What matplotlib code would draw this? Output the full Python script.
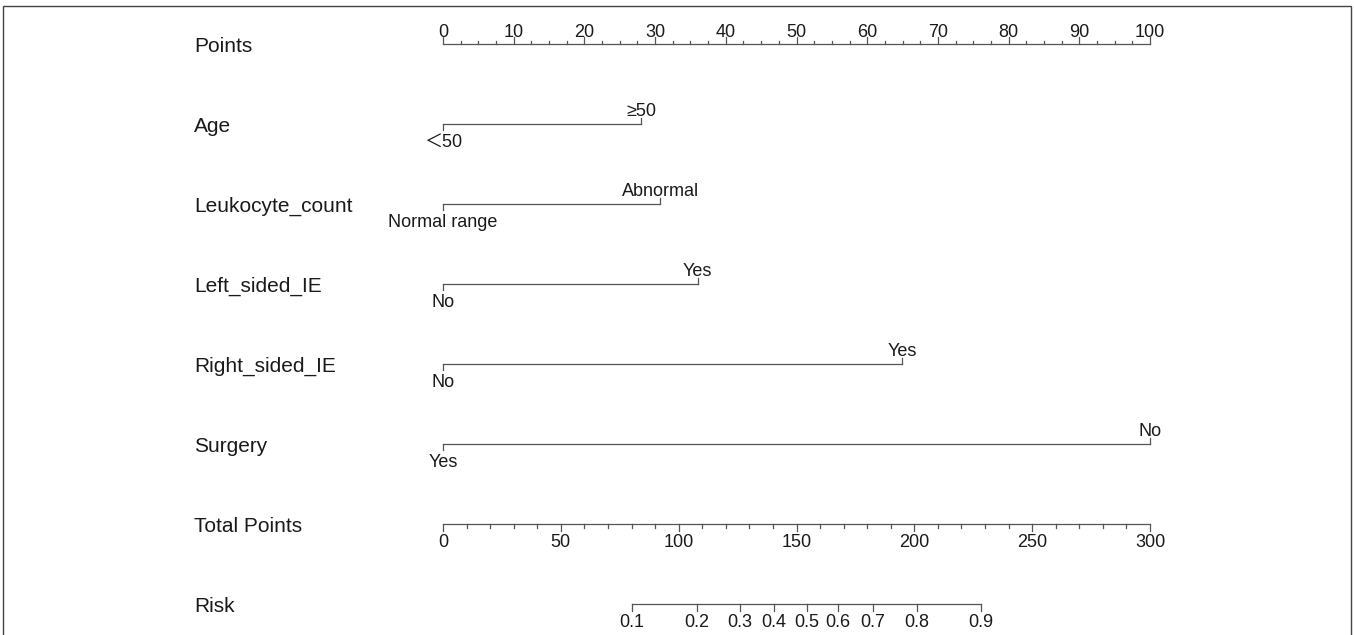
import matplotlib
matplotlib.use("Agg")
import matplotlib.pyplot as plt
from matplotlib.patches import Rectangle

plt.rcParams['font.family'] = ['Liberation Sans', 'Noto Sans CJK SC', 'DejaVu Sans']

# ---- data ----
points_ticks = [0, 10, 20, 30, 40, 50, 60, 70, 80, 90, 100]
points_minor_step = 2.5
variables = ['Age', 'Leukocyte_count', 'Left_sided_IE', 'Right_sided_IE', 'Surgery']
level_low = ['＜50', 'Normal range', 'No', 'No', 'Yes']
level_high = ['≥50', 'Abnormal', 'Yes', 'Yes', 'No']
points_low = [0, 0, 0, 0, 0]
points_high = [28.0, 30.7, 36.0, 64.9, 100.0]
total_ticks = [0, 50, 100, 150, 200, 250, 300]
total_minor_step = 10
total_max = 300
risk_ticks = [0.1, 0.2, 0.3, 0.4, 0.5, 0.6, 0.7, 0.8, 0.9]
risk_total_points = [80.2, 107.8, 126.0, 140.4, 154.4, 167.6, 182.4, 201.1, 228.3]

# ---- layout ----
W, H = 1354, 635
fig = plt.figure(figsize=(W / 100, H / 100), dpi=100)
ax = fig.add_axes([0, 0, 1, 1])
x0_px, x100_px = 443, 1150
scale = (x100_px - x0_px) / 100.0
ax.set_xlim(-x0_px / scale, (W - x0_px) / scale)
ax.set_ylim(H, 0)
ax.axis('off')

lc = '#555555'
tc = '#1a1a1a'
lw = 0.9
fs_name = 15
fs_tick = 13
name_x = (194 - x0_px) / scale

row_y = [44.3, 124.3, 204.3, 284.3, 364.3, 444.3, 524.3, 604.3]

# Points axis
y = row_y[0]
ax.text(name_x, y + 7.5, 'Points', fontsize=fs_name, color=tc, ha='left', va='baseline')
ax.plot([0, 100], [y, y], color=lc, lw=lw)
n_minor = int(100 / points_minor_step)
for i in range(n_minor + 1):
    v = i * points_minor_step
    ln = 7 if v in points_ticks else 3.5
    ax.plot([v, v], [y, y - ln], color=lc, lw=lw)
for v in points_ticks:
    ax.text(v, 36.7, str(v), fontsize=fs_tick, color=tc, ha='center', va='baseline')

# Variables
for k, name in enumerate(variables):
    y = row_y[k + 1]
    ax.text(name_x, y + 7.5, name, fontsize=fs_name, color=tc, ha='left', va='baseline')
    a, b = points_low[k], points_high[k]
    ax.plot([a, b], [y, y], color=lc, lw=lw)
    ax.plot([a, a], [y, y + 6], color=lc, lw=lw)
    ax.plot([b, b], [y, y - 6], color=lc, lw=lw)
    ax.text(a, y + 23, level_low[k], fontsize=fs_tick, color=tc, ha='center', va='baseline')
    ax.text(b, y - 8, level_high[k], fontsize=fs_tick, color=tc, ha='center', va='baseline')

# Total points axis
y = row_y[6]
tp = lambda t: t * 100.0 / total_max
ax.text(name_x, y + 7.5, 'Total Points', fontsize=fs_name, color=tc, ha='left', va='baseline')
ax.plot([0, 100], [y, y], color=lc, lw=lw)
for i in range(int(total_max / total_minor_step) + 1):
    v = i * total_minor_step
    ln = 7 if v in total_ticks else 4
    ax.plot([tp(v), tp(v)], [y, y + ln], color=lc, lw=lw)
for v in total_ticks:
    ax.text(tp(v), 547, str(v), fontsize=fs_tick, color=tc, ha='center', va='baseline')

# Risk axis
y = row_y[7]
ax.text(name_x, y + 7.5, 'Risk', fontsize=fs_name, color=tc, ha='left', va='baseline')
rx = [tp(t) for t in risk_total_points]
ax.plot([rx[0], rx[-1]], [y, y], color=lc, lw=lw)
for r, x in zip(risk_ticks, rx):
    ax.plot([x, x], [y, y + 7], color=lc, lw=lw)
    ax.text(x, 627, f'{r:g}', fontsize=fs_tick, color=tc, ha='center', va='baseline')

# Border frame
fig.patches.append(Rectangle((3 / W, -0.01), (W - 6) / W, 1 - 5.5 / H + 0.01,
                             transform=fig.transFigure, fill=False,
                             edgecolor='#444444', lw=1.0))

fig.savefig('out.png', dpi=100)
